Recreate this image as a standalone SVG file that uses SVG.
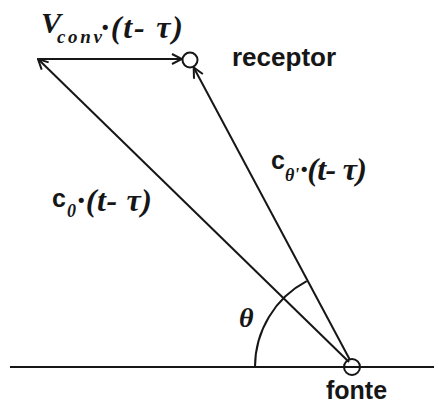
<svg xmlns="http://www.w3.org/2000/svg" width="439" height="405" viewBox="0 0 439 405">
<style>
.ln{stroke:#161616;stroke-width:2;fill:none}
.sans{font-family:"Liberation Sans",Arial,sans-serif;font-weight:bold;fill:#161616}
.ser{font-family:"Liberation Serif","Times New Roman",serif;font-style:italic;font-weight:bold;fill:#161616}
</style>
<defs>
<marker id="ah" viewBox="0 0 12 12" refX="11" refY="6" markerWidth="12" markerHeight="12" markerUnits="userSpaceOnUse" orient="auto">
<path d="M1,1 L11,6 L1,11" fill="none" stroke="#161616" stroke-width="2"/>
</marker>
</defs>
<rect width="439" height="405" fill="#fff"/>
<g id="connectors">
<line class="ln" x1="10" y1="367" x2="434" y2="367"/>
<line class="ln" x1="349" y1="362" x2="38" y2="59" marker-end="url(#ah)"/>
<line class="ln" x1="350" y1="360" x2="193.7" y2="67.5" marker-end="url(#ah)"/>
<line class="ln" x1="39" y1="59" x2="182" y2="59" marker-end="url(#ah)"/>
<path class="ln" d="M255,367 A97,97 0 0 1 306.7,281.2"/>
</g>
<g id="receptor">
<circle class="ln" cx="190" cy="60" r="7.5"/>
<text class="sans" x="232" y="66" font-size="26">receptor</text>
</g>
<g id="fonte">
<circle class="ln" cx="352" cy="367" r="8"/>
<text class="sans" x="326" y="399" font-size="25">fonte</text>
</g>
<g id="label-vconv">
<text class="ser" x="41" y="33" font-size="30" font-weight="normal">V</text>
<text class="ser" x="57" y="43" font-size="19" textLength="45">conv</text>
<text class="ser" x="101" y="38" font-size="32" textLength="82">·(t- τ)</text>
</g>
<g id="label-ctheta">
<text class="sans" x="271" y="169" font-size="25">c</text>
<text class="ser" x="285" y="181" font-size="18" font-weight="normal">θ'</text>
<text class="ser" x="300" y="180" font-size="32" textLength="67">·(t- τ)</text>
</g>
<g id="label-c0">
<text class="sans" x="52" y="207" font-size="25">c</text>
<text class="ser" x="67" y="217" font-size="18" font-weight="normal">0</text>
<text class="ser" x="77" y="211" font-size="32" textLength="75">·(t- τ)</text>
</g>
<g id="label-theta">
<text class="ser" x="239" y="327" font-size="28" font-weight="normal">θ</text>
</g>
</svg>
